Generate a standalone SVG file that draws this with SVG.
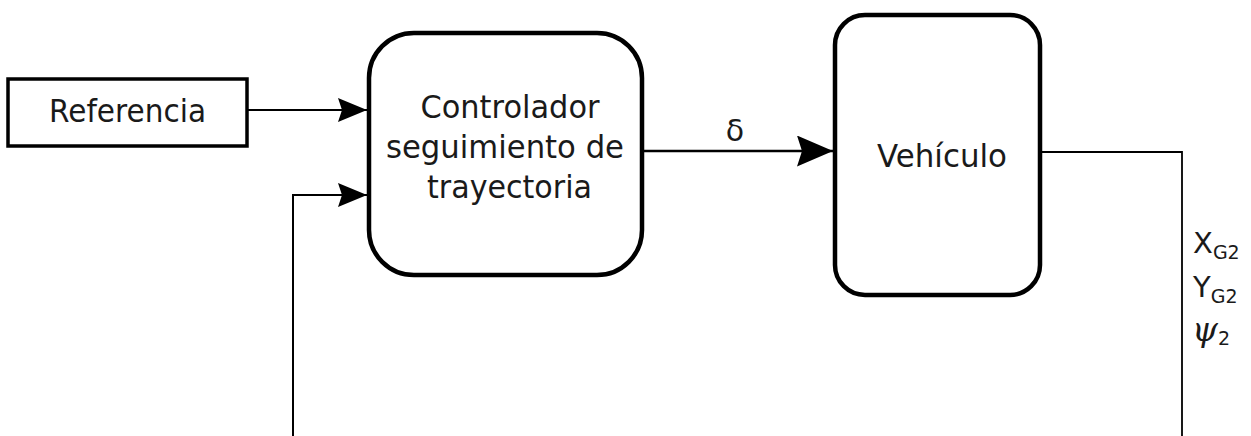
<svg xmlns="http://www.w3.org/2000/svg" width="1251" height="436" viewBox="0 0 1251 436">
<style>
.box{fill:#fff;stroke:#000;stroke-width:4.5}
.lbl{font-family:"DejaVu Sans",Verdana,sans-serif;fill:#1a1a1a}
.ln{fill:none;stroke:#000}
</style>
<defs>
<marker id="ah" viewBox="0 0 29 24" refX="29" refY="12" markerWidth="29" markerHeight="24" markerUnits="userSpaceOnUse" orient="auto">
<path d="M0,0 L29,12 L0,24 L4,12 z" fill="#000"/>
</marker>
<marker id="ahb" viewBox="0 0 36 31" refX="36" refY="15.5" markerWidth="36" markerHeight="31" markerUnits="userSpaceOnUse" orient="auto">
<path d="M0,0 L36,15.5 L0,31 L5,15.5 z" fill="#000"/>
</marker>
</defs>
<rect width="1251" height="436" fill="#fff"/>
<g id="connectors">
<line class="ln" x1="247" y1="110" x2="367" y2="110" stroke-width="2" marker-end="url(#ah)"/>
<polyline class="ln" points="293,436 293,195 367,195" stroke-width="2" marker-end="url(#ah)"/>
<line class="ln" x1="642" y1="151" x2="833" y2="151" stroke-width="2.5" marker-end="url(#ahb)"/>
<polyline class="ln" points="1040,152 1182,152 1182,436" stroke-width="1.8"/>
<text class="lbl" x="735" y="141" font-size="30" text-anchor="middle">δ</text>
<g id="outputs" class="lbl">
<text x="1193" y="253" font-size="29">X<tspan font-size="19" dy="6">G2</tspan></text>
<text x="1193" y="297" font-size="29">Y<tspan font-size="19" dy="6">G2</tspan></text>
<text x="1192" y="341" font-size="33" font-family="'DejaVu Serif',serif" font-style="italic">ψ<tspan font-size="19" dy="4" font-family="'DejaVu Sans',sans-serif" font-style="normal">2</tspan></text>
</g>
</g>
<g id="referencia">
<rect x="8" y="79" width="239" height="67" fill="#fff" stroke="#000" stroke-width="3.5"/>
<text class="lbl" x="127.5" y="122" font-size="32" text-anchor="middle" textLength="157" lengthAdjust="spacingAndGlyphs">Referencia</text>
</g>
<g id="controlador">
<rect class="box" x="369" y="33" width="273" height="242" rx="45" ry="45"/>
<text class="lbl" font-size="32" text-anchor="middle"><tspan x="510" y="118" textLength="179" lengthAdjust="spacingAndGlyphs">Controlador</tspan></text>
<text class="lbl" font-size="32" text-anchor="middle"><tspan x="505" y="158" textLength="238" lengthAdjust="spacingAndGlyphs">seguimiento de</tspan></text>
<text class="lbl" font-size="32" text-anchor="middle"><tspan x="509.5" y="198" textLength="165" lengthAdjust="spacingAndGlyphs">trayectoria</tspan></text>
</g>
<g id="vehiculo">
<rect class="box" x="835" y="15" width="205" height="280" rx="30" ry="30"/>
<text class="lbl" x="942" y="167" font-size="32" text-anchor="middle" textLength="130" lengthAdjust="spacingAndGlyphs">Vehículo</text>
</g>
</svg>
